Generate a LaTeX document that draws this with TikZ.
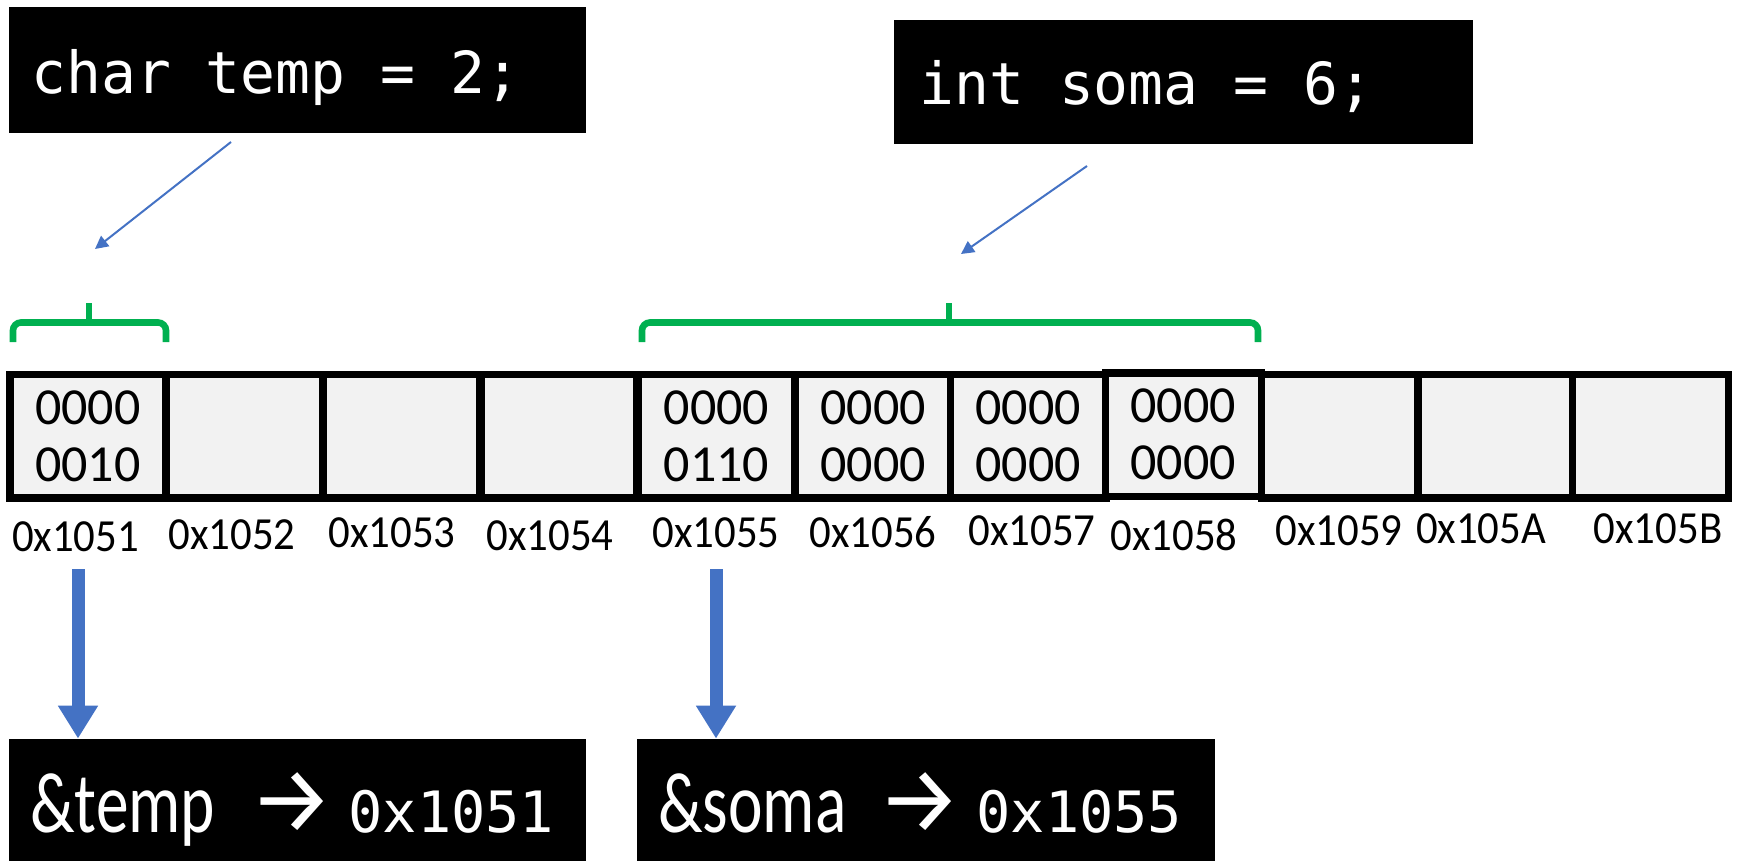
\documentclass[tikz,border=0pt]{standalone}
\usepackage{fontspec}
\usetikzlibrary{arrows.meta}
\newfontfamily\monofont{DejaVu Sans Mono}
\newfontfamily\cellfont{Carlito}
\newfontfamily\labelfont[FakeStretch=0.93]{Carlito}
\newfontfamily\ampfont[FakeStretch=0.76]{Carlito}
\newfontfamily\arrowfont{Fira Sans}
\definecolor{arrowblue}{RGB}{68,114,196}
\definecolor{brgreen}{RGB}{0,176,80}
\definecolor{cellgray}{RGB}{242,242,242}
\tikzset{
  blackbox/.style={fill=black, inner sep=0pt},
  codetext/.style={text=white, anchor=base west, inner sep=0pt, font={\monofont\fontsize{29}{34}\selectfont}},
  amptext/.style={text=white, anchor=base west, inner sep=0pt, font={\ampfont\fontsize{43}{46}\selectfont}},
  arrowtext/.style={text=white, anchor=base west, inner sep=0pt, font={\arrowfont\fontsize{47}{50}\selectfont}},
  addrtext/.style={text=white, anchor=base west, inner sep=0pt, font={\monofont\fontsize{28.5}{33}\selectfont}},
  cell/.style={draw=black, line width=3.75pt, fill=cellgray, minimum width=78pt, minimum height=61.75pt, inner sep=0pt, align=center, font={\cellfont\fontsize{26}{28.5}\selectfont}},
  addrlabel/.style={inner sep=0pt, font={\labelfont\fontsize{23}{27}\selectfont}},
  bracket/.style={draw=brgreen, line width=3.3pt, rounded corners=4pt},
  thinarrow/.style={draw=arrowblue, line width=1pt, -{Triangle[width=6.5pt,length=6.5pt]}},
  thickarrow/.style={draw=arrowblue, line width=6.5pt, -{Triangle[width=19pt,length=16.5pt]}}
}
\begin{document}
\begin{tikzpicture}[x=0.5pt,y=-0.5pt]
\useasboundingbox (0,0) rectangle (1740,861);
% top code boxes
\node[blackbox, minimum width=288.5pt, minimum height=63pt] (tempbox) at (297.5,70) {};
\node[codetext] (temptext) at (31,94) {char temp = 2;};
\node[blackbox, minimum width=289.5pt, minimum height=62pt] (somabox) at (1183.5,82) {};
\node[codetext] (somatext) at (919,105) {int soma = 6;};
% memory cells
\node[cell] (c1) at (87.75,436.25) {0000\\0010};
\node[cell] (c2) at (244.5,436.25) {};
\node[cell] (c3) at (401.5,436.25) {};
\node[cell] (c4) at (559,436.25) {};
\node[cell] (c5) at (716.5,436.25) {0000\\0110};
\node[cell] (c6) at (873,436.25) {0000\\0000};
\node[cell] (c7) at (1028.25,436.25) {0000\\0000};
\node[cell] (c8) at (1183.25,434.75) {0000\\0000};
\node[cell] (c9) at (1339.5,436.25) {};
\node[cell] (c10) at (1495.75,436.25) {};
\node[cell] (c11) at (1650.25,436.25) {};
% address labels
\node[addrlabel] (l1) at (75.5,537) {0x1051};
\node[addrlabel] (l2) at (232,535) {0x1052};
\node[addrlabel] (l3) at (392,533) {0x1053};
\node[addrlabel] (l4) at (550,536) {0x1054};
\node[addrlabel] (l5) at (716,533) {0x1055};
\node[addrlabel] (l6) at (873,532) {0x1056};
\node[addrlabel] (l7) at (1032,531) {0x1057};
\node[addrlabel] (l8) at (1174,535) {0x1058};
\node[addrlabel] (l9) at (1339,531) {0x1059};
\node[addrlabel] (l10) at (1481,529) {0x105A};
\node[addrlabel] (l11) at (1658,529) {0x105B};
% brackets
\draw[bracket] (13,342) -- (13,322.5) -- (166,322.5) -- (166,342);
\draw[bracket] (89,322.5) -- (89,303);
\draw[bracket] (642,342) -- (642,322.5) -- (1258,322.5) -- (1258,342);
\draw[bracket] (949,322.5) -- (949,303);
% thin arrows
\coordinate (t1s) at (231,142);
\coordinate (t1e) at (95,249);
\coordinate (t2s) at (1087,166);
\coordinate (t2e) at (961,254);
\draw[thinarrow] (t1s) -- (t1e);
\draw[thinarrow] (t2s) -- (t2e);
% bottom boxes
\node[blackbox, minimum width=288.5pt, minimum height=61pt] (refbox1) at (297.5,800) {};
\node[amptext] (amp1) at (30,832) {\&temp};
\node[arrowtext] (arr1) at (249,832) {→};
\node[addrtext] (addr1) at (348,832) {0x1051};
\node[blackbox, minimum width=289pt, minimum height=61pt] (refbox2) at (926,800) {};
\node[amptext] (amp2) at (658,832) {\&soma};
\node[arrowtext] (arr2) at (877,832) {→};
\node[addrtext] (addr2) at (976,832) {0x1055};
% thick arrows
\coordinate (a1s) at (78,569);
\coordinate (a2s) at (716,569);
\draw[thickarrow] (a1s) -- (a1s |- refbox1.north);
\draw[thickarrow] (a2s) -- (a2s |- refbox2.north);
\end{tikzpicture}
\end{document}
